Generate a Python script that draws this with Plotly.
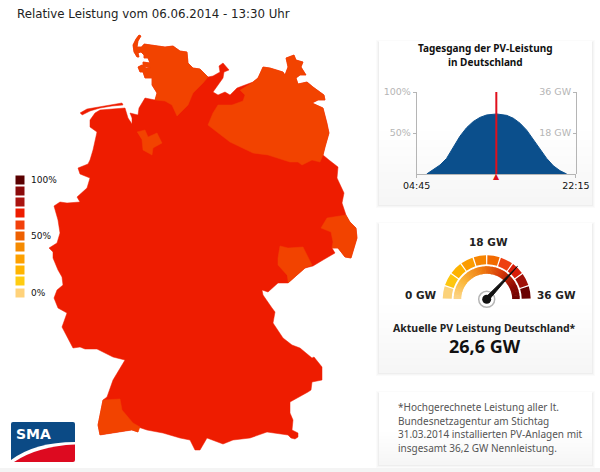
import plotly.graph_objects as go

# Karte: Umrisse in Bildpunkten der Vorlage, Abschnitte der Grenze im Uhrzeigersinn
SH_OST_X = [144, 153, 158, 165, 173, 180, 187, 188, 193, 200, 208]
SH_OST_Y = [44, 45, 46, 47, 46, 51, 52, 63, 68, 69, 77]
LUEBECK_X = [213, 220, 219, 223, 229, 224, 223, 213, 218, 225, 230, 237]
LUEBECK_Y = [76, 72, 66, 63, 70, 72, 78, 92, 95, 92, 95, 88]
MV_KUESTE_X = [253, 258, 263, 270, 283, 285, 288, 286, 294, 296, 303, 301, 306, 300, 296, 298, 307, 313, 324, 325, 318, 312, 323, 327, 329, 325, 323]
MV_KUESTE_Y = [82, 78, 67, 68, 72, 75, 67, 58, 55, 60, 62, 67, 75, 75, 78, 84, 82, 87, 95, 100, 100, 103, 108, 123, 133, 147, 155]
OST_X = [329, 338, 337, 344, 342, 346]
OST_Y = [160, 167, 178, 193, 203, 215]
NEISSE_X = [350, 356, 357, 351, 345, 338, 332]
NEISSE_Y = [222, 228, 238, 258, 257, 248, 248]
ERZGEBIRGE_X = [335, 323, 313, 305]
ERZGEBIRGE_Y = [253, 260, 266, 268]
VOGTLAND_KANTE_X = [297, 288]
VOGTLAND_KANTE_Y = [275, 283]
BAYERN_X = [278, 268, 262, 263, 272, 275, 273, 283, 292, 300, 312, 314, 322, 322, 312, 311, 308, 290, 290, 293, 292, 298, 298, 295, 291, 288, 267, 250, 233, 223, 207, 200, 195, 190, 180, 163, 147, 138, 138, 132]
BAYERN_Y = [283, 292, 290, 295, 308, 312, 323, 338, 345, 348, 358, 357, 367, 380, 382, 390, 392, 402, 413, 420, 430, 433, 437, 439, 438, 435, 432, 438, 440, 444, 438, 450, 450, 440, 438, 433, 430, 427, 432, 430]
SUEDWEST_X = [100, 98, 103, 107, 113, 125, 113, 97, 85, 80, 73, 68]
SUEDWEST_Y = [435, 425, 400, 397, 380, 360, 357, 349, 349, 347, 348, 338]
WEST_X = [62, 67, 58, 54, 57, 63, 62, 58, 53, 53, 49, 57, 60, 58, 54, 60, 67, 80, 77, 87, 90, 80, 78, 88, 90, 93, 97, 90, 90, 95]
WEST_Y = [327, 313, 308, 298, 290, 285, 277, 270, 258, 252, 248, 243, 233, 220, 206, 202, 203, 202, 197, 188, 178, 174, 168, 164, 160, 150, 132, 127, 120, 113]
NORDSEE_X = [100, 125, 128, 132, 132, 130, 138, 139, 145]
NORDSEE_Y = [110, 108, 118, 124, 118, 113, 115, 108, 98]
SH_WEST_X = [155, 157, 152, 152, 145, 143, 140, 138, 142, 146, 151, 143, 143, 150, 148, 144, 144, 141, 138, 139, 137, 134, 133, 136, 139, 141, 138, 137, 141]
SH_WEST_Y = [100, 93, 85, 78, 78, 72, 72, 67, 65, 68, 68, 66, 62, 63, 58, 58, 55, 52, 53, 57, 57, 52, 45, 39, 35, 36, 41, 47, 47]

INSELN_X = [80, 87, 122, 123, 112, 100, 90, 82]
INSELN_Y = [113, 109, 103, 105, 106, 108, 111, 115]

# Regionen mit niedrigerer Leistung: Innengrenzen
SH_INNEN_X = [203, 193, 188, 177, 172, 165]
SH_INNEN_Y = [83, 93, 105, 116, 105, 101]
MV_WEST_X = [320, 312, 302, 298, 290, 277, 268, 253, 243, 230, 217, 208, 213, 218, 232, 243, 245, 240]
MV_WEST_Y = [162, 160, 165, 162, 162, 158, 155, 153, 148, 142, 132, 125, 113, 105, 105, 101, 95, 90]
BREMEN_X = [137, 145, 148, 157, 162, 153, 152, 143, 142]
BREMEN_Y = [132, 130, 137, 133, 143, 148, 155, 150, 140]
GOERLITZ_INNEN_X = [333, 331, 321, 327]
GOERLITZ_INNEN_Y = [242, 232, 228, 218]
VOGTLAND_INNEN_X = [287, 278, 278, 280, 288, 303, 312]
VOGTLAND_INNEN_Y = [275, 265, 258, 246, 248, 247, 265]
SUEDBADEN_INNEN_X = [120, 122, 133, 140, 138, 132]
SUEDBADEN_INNEN_Y = [399, 410, 423, 427, 432, 430]

ROT = "#ee1c00"
ORANGE = "#f24300"

# Legende
LEGENDE_FARBEN = ["#5a0000", "#8b0a0a", "#aa1410", "#ee1c00", "#f2400a", "#ee6000", "#f58a00", "#fda000", "#ffb400", "#ffcc11", "#ffd27a"]
LEGENDE_Y = [180, 191, 202, 213, 225, 236, 247, 259, 270, 281, 293]
LEGENDE_TEXT = {"100%": 180, "50%": 236, "0%": 293}

# Tagesgang
ZEIT = ["05:51", "06:35", "07:19", "08:02", "08:46", "09:30", "10:14", "10:58", "11:42", "12:26", "13:32", "14:38", "15:22", "16:06", "16:50", "17:34", "18:18", "19:02", "19:46", "20:30", "21:14"]
PROZENT = [0, 5, 11, 19, 32.5, 46, 56.5, 64, 69, 72, 73.2, 71.5, 68, 62, 53.5, 42, 30, 19, 10, 4, 0]
JETZT = "13:30"
LEISTUNG_GW = 26.6
NENN_GW = 36

# Tacho
SEGMENT_FARBEN = ["#fbd27a", "#fdc60f", "#fdb200", "#fb9c00", "#f68400", "#f26a00", "#ee3f10", "#d81c08", "#a01008", "#6a0000"]
VERLAUF_FARBEN = [[0, "#fcd68a"], [0.2, "#fbb83c"], [0.45, "#ee7a10"], [0.65, "#d83a08"], [0.85, "#900a04"], [1, "#6a0000"]]

FUSSNOTE = ["*Hochgerechnete Leistung aller lt.", "Bundesnetzagentur am Stichtag", "31.03.2014 installierten PV-Anlagen mit", "insgesamt 36,2 GW Nennleistung."]
FUSSNOTE_Y = [407, 421, 434, 448]

FONT = "DejaVu Sans"
FONT_SCHMAL = "Noto Sans"


def uhr(t):
  return "2014-06-06 " + t


def karte(x, y, farbe):
  return go.Scatter(x=x, y=y, mode="lines", fill="toself", fillcolor=farbe,
                    line=dict(color=farbe, width=0.5), hoverinfo="skip", xaxis="x", yaxis="y")


def text(s, x, y, size=10, color="#111111", bold=False, anchor="center", family=FONT):
  fig.add_annotation(x=x, y=y, xref="x", yref="y", text=f"<b>{s}</b>" if bold else s, showarrow=False,
                     xanchor=anchor, yanchor="middle",
                     font=dict(family=family, size=size, color=color))


def karte_box(x0, y0, x1, y1):
  # weicher Schatten, dann Verlauf von weiss nach hellgrau
  for d, c in [(3, "#fbfbfb"), (2, "#f6f6f6"), (1, "#eeeeee")]:
    fig.add_shape(type="rect", x0=x0 - d, x1=x1 + d, y0=y0 - d + 2, y1=y1 + d, xref="x", yref="y",
                  fillcolor=c, line_width=0, layer="below")
  fig.add_shape(type="rect", x0=x0, x1=x1, y0=y0, y1=y1, xref="x", yref="y", fillcolor="#ffffff", line_width=0, layer="below")
  steps = 10
  for i in range(steps):
    top = y0 + (y1 - y0) * (0.5 + 0.5 * i / steps)
    g = 255 - i
    fig.add_shape(type="rect", x0=x0, x1=x1, y0=top, y1=y1, xref="x", yref="y",
                  fillcolor=f"rgb({g},{g},{g})", line_width=0, layer="below")


fig = go.Figure()

# Karte
land_x = SH_OST_X + LUEBECK_X + MV_KUESTE_X + OST_X + NEISSE_X + ERZGEBIRGE_X + VOGTLAND_KANTE_X + BAYERN_X + SUEDWEST_X + WEST_X + NORDSEE_X + SH_WEST_X
land_y = SH_OST_Y + LUEBECK_Y + MV_KUESTE_Y + OST_Y + NEISSE_Y + ERZGEBIRGE_Y + VOGTLAND_KANTE_Y + BAYERN_Y + SUEDWEST_Y + WEST_Y + NORDSEE_Y + SH_WEST_Y
fig.add_trace(karte(land_x, land_y, ROT))
fig.add_trace(karte(INSELN_X, INSELN_Y, ROT))
fig.add_trace(karte(SH_OST_X + SH_INNEN_X + SH_WEST_X, SH_OST_Y + SH_INNEN_Y + SH_WEST_Y, ORANGE))
fig.add_trace(karte(MV_KUESTE_X + MV_WEST_X, MV_KUESTE_Y + MV_WEST_Y, ORANGE))
fig.add_trace(karte(BREMEN_X, BREMEN_Y, ORANGE))
fig.add_trace(karte(NEISSE_X + GOERLITZ_INNEN_X + OST_X[-1:], NEISSE_Y + GOERLITZ_INNEN_Y + OST_Y[-1:], ORANGE))
fig.add_trace(karte(VOGTLAND_INNEN_X + ERZGEBIRGE_X[-1:] + VOGTLAND_KANTE_X, VOGTLAND_INNEN_Y + ERZGEBIRGE_Y[-1:] + VOGTLAND_KANTE_Y, ORANGE))
fig.add_trace(karte(SUEDWEST_X[:3] + SUEDBADEN_INNEN_X, SUEDWEST_Y[:3] + SUEDBADEN_INNEN_Y, ORANGE))

# Legende
fig.add_trace(go.Scatter(x=[20] * len(LEGENDE_Y), y=LEGENDE_Y, mode="markers", hoverinfo="skip",
                         marker=dict(symbol="square", size=9, color=LEGENDE_FARBEN), xaxis="x", yaxis="y"))

# Tagesgang
fig.add_trace(go.Scatter(x=[uhr(t) for t in ZEIT], y=PROZENT, mode="lines", fill="tozeroy", fillcolor="#0b4f8c",
                         line=dict(color="#0b4f8c", width=1), xaxis="x2", yaxis="y2"))
fig.add_trace(go.Scatter(x=[uhr(JETZT), uhr(JETZT)], y=[0, 100], mode="lines", line=dict(color="#e0101c", width=2),
                         xaxis="x2", yaxis="y2"))
fig.add_trace(go.Scatter(x=[uhr("04:45")], y=[0], mode="markers", marker=dict(opacity=0), hoverinfo="skip", xaxis="x2", yaxis="y3"))

# Tacho
grad = 180 / NENN_GW
seg_breite = NENN_GW / len(SEGMENT_FARBEN)
fig.add_trace(go.Barpolar(theta=[(i + 0.5) * seg_breite * grad for i in range(len(SEGMENT_FARBEN))],
                          r=[9] * len(SEGMENT_FARBEN), base=35, width=[seg_breite * grad - 1.8] * len(SEGMENT_FARBEN),
                          marker=dict(color=SEGMENT_FARBEN, line_width=0), subplot="polar"))
verlauf = [v * 0.5 for v in range(NENN_GW * 2)]
fig.add_trace(go.Barpolar(theta=[(v + 0.25) * grad for v in verlauf], r=[7.5] * len(verlauf), base=25.5,
                          width=[grad * 0.75] * len(verlauf),
                          marker=dict(color=verlauf, colorscale=VERLAUF_FARBEN, cmin=0, cmax=NENN_GW, line_width=0),
                          subplot="polar"))
zeiger = LEISTUNG_GW * grad
fig.add_trace(go.Scatterpolar(r=[0], theta=[0], mode="markers", cliponaxis=False,
                              marker=dict(size=16, color="#ffffff", line=dict(color="#b5b5b5", width=1.5)), subplot="polar"))
fig.add_trace(go.Scatterpolar(r=[3, 45, 3], theta=[zeiger + 40, zeiger, zeiger - 40], mode="lines", fill="toself",
                              fillcolor="#111111", line=dict(color="#111111", width=1), subplot="polar"))
fig.add_trace(go.Scatterpolar(r=[0], theta=[0], mode="markers", cliponaxis=False,
                              marker=dict(size=9, color="#111111"), subplot="polar"))

# Boxen
karte_box(379, 41, 592, 205)
karte_box(379, 223, 592, 373)
karte_box(379, 392, 592, 465)
fig.add_shape(type="rect", x0=0, x1=600, y0=468, y1=472, xref="x", yref="y", fillcolor="#f4f4f4", line_width=0, layer="below")

# Logo
fig.add_shape(type="path", xref="x", yref="y", fillcolor="#0b4a85", line_width=0,
              path="M 13 422 L 73 422 Q 75 422 75 424 L 75 460 Q 75 462 73 462 L 13 462 Q 11 462 11 460 L 11 424 Q 11 422 13 422 Z")
fig.add_shape(type="path", xref="x", yref="y", fillcolor="#ffffff", line_width=0,
              path="M 11 460 Q 35 442 75 442 L 75 462 L 11 462 Z")
fig.add_shape(type="path", xref="x", yref="y", fillcolor="#dd0a20", line_width=0,
              path="M 14 462 Q 38 446 75 444.5 L 75 460 Q 75 462 73 462 Z")

# Texte
text("Relative Leistung vom 06.06.2014 - 13:30 Uhr", 15, 14, size=11.8, color="#222222", anchor="left")
for s, y in LEGENDE_TEXT.items():
  text(s, 29, y, size=9, anchor="left")
text("Tagesgang der PV-Leistung", 485, 48, size=10, bold=True, family=FONT_SCHMAL)
text("in Deutschland", 485, 62, size=10, bold=True, family=FONT_SCHMAL)
text("18 GW", 488, 242, size=10.5, color="#222222", bold=True)
text("0 GW", 421, 295, size=10.5, color="#222222", bold=True)
text("36 GW", 556, 295, size=10.5, color="#222222", bold=True)
text("Aktuelle PV Leistung Deutschland*", 484.5, 328, size=10.5, color="#222222", bold=True, family=FONT_SCHMAL)
text("26,6 GW", 485, 346, size=18, color="#111111", bold=True, family=FONT_SCHMAL)
text("SMA", 33, 434, size=14, color="#ffffff", bold=True)
for s, y in zip(FUSSNOTE, FUSSNOTE_Y):
  text(s, 396, y, size=10, color="#555555", anchor="left", family=FONT_SCHMAL)

# Dreieck am Fuss der roten Linie
fig.add_annotation(x=uhr(JETZT), y=0, xref="x2", yref="y2", text="▲", showarrow=False, yanchor="middle", yshift=-2,
                   font=dict(size=8, color="#e0101c", family=FONT))

grau = "#b5b5b5"
fig.update_layout(
  width=600, height=472, margin=dict(l=0, r=0, t=0, b=0, autoexpand=False), showlegend=False,
  paper_bgcolor="#ffffff", plot_bgcolor="rgba(0,0,0,0)", font=dict(family=FONT),
  xaxis=dict(range=[0, 600], visible=False, domain=[0, 1], fixedrange=True),
  yaxis=dict(range=[472, 0], visible=False, domain=[0, 1], fixedrange=True),
  xaxis2=dict(domain=[416.7 / 600, 576 / 600], anchor="y2", range=[uhr("04:45"), uhr("22:15:20")], type="date",
              tickvals=[uhr("04:45"), uhr("22:15")], ticktext=["04:45", "22:15"], ticks="outside", ticklen=3,
              tickcolor=grau, linecolor=grau, showline=True, showgrid=False, zeroline=False,
              tickfont=dict(size=9.5, color="#111111", family=FONT), fixedrange=True),
  yaxis2=dict(domain=[1 - 174 / 472, 1 - 92 / 472], anchor="x2", range=[0, 100], tickvals=[50, 100],
              ticktext=["50%", "100%"], ticks="outside", ticklen=3, tickcolor=grau, linecolor=grau, showline=True,
              showgrid=False, zeroline=False, tickfont=dict(size=9.5, color=grau, family=FONT), fixedrange=True),
  yaxis3=dict(domain=[1 - 174 / 472, 1 - 92 / 472], anchor="free", position=576 / 600, overlaying="y2", side="left",
              range=[0, NENN_GW], tickvals=[18, 36], ticktext=["18 GW", "36 GW"], ticks="outside", ticklen=3,
              tickcolor=grau, linecolor=grau, showline=True, showgrid=False, zeroline=False,
              tickfont=dict(size=9.5, color=grau, family=FONT), fixedrange=True),
  polar=dict(domain=dict(x=[(486.7 - 46) / 600, (486.7 + 46) / 600], y=[1 - 299.3 / 472, 1 - (299.3 - 46) / 472]),
             sector=[0, 180], bgcolor="rgba(0,0,0,0)",
             angularaxis=dict(visible=False, rotation=180, direction="clockwise", thetaunit="degrees"),
             radialaxis=dict(visible=False, range=[0, 46])),
)

# body-Rand der Seite entfernen, damit die Abbildung bei 0,0 beginnt
fig.write_html("out.html", config={"displayModeBar": False}, post_script="document.body.style.margin='0';")
